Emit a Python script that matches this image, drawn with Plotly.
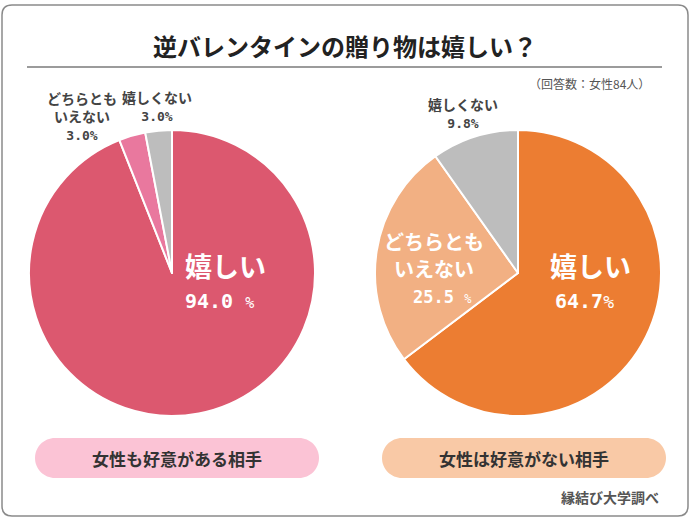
import plotly.graph_objects as go

W, H = 690, 523

title = "逆バレンタインの贈り物は嬉しい？"
subtitle = "（回答数：女性84人）"
source = "縁結び大学調べ"
categories = ["嬉しい", "どちらともいえない", "嬉しくない"]
values_like = [94.0, 3.0, 3.0]      # 女性も好意がある相手
values_dislike = [64.7, 25.5, 9.8]  # 女性は好意がない相手
group_labels = ["女性も好意がある相手", "女性は好意がない相手"]

colors_like = ["#dc586f", "#e9789e", "#bdbdbd"]
colors_dislike = ["#ec7d32", "#f2b083", "#bdbdbd"]

JP = "Noto Sans CJK JP"
MONO = "DejaVu Sans Mono"


def px(x, y):
    return x / W, 1 - y / H


def dom(cx, cy, r):
    return dict(x=[(cx - r) / W, (cx + r) / W], y=[1 - (cy + r) / H, 1 - (cy - r) / H])


fig = go.Figure()
for vals, cols, cx in [(values_like, colors_like, 172), (values_dislike, colors_dislike, 518)]:
    fig.add_trace(go.Pie(
        labels=categories, values=vals, sort=False, direction="clockwise", rotation=0,
        marker=dict(colors=cols, line=dict(color="white", width=2)),
        textinfo="none", hoverinfo="label+percent", showlegend=False,
        domain=dom(cx, 273, 143),
    ))

shapes = []
# outer rounded border
x0, y0, x1, y1, r = 2, 5, 688, 516, 10
path = (f"M {x0+r},{y0} L {x1-r},{y0} Q {x1},{y0} {x1},{y0+r} L {x1},{y1-r} Q {x1},{y1} {x1-r},{y1} "
        f"L {x0+r},{y1} Q {x0},{y1} {x0},{y1-r} L {x0},{y0+r} Q {x0},{y0} {x0+r},{y0} Z")
shapes.append(dict(type="path", xref="x", yref="y", path=path, line=dict(color="#8a8a8a", width=1.5)))
shapes.append(dict(type="line", xref="x", yref="y", x0=27, x1=662, y0=67, y1=67,
                   line=dict(color="#7a7a7a", width=1.5)))


def pill(x0, x1, y0, y1, color):
    r = (y1 - y0) / 2
    k = 0.5523 * r
    ym = (y0 + y1) / 2
    p = (f"M {x0+r},{y0} L {x1-r},{y0} "
         f"C {x1-r+k},{y0} {x1},{ym-k} {x1},{ym} "
         f"C {x1},{ym+k} {x1-r+k},{y1} {x1-r},{y1} "
         f"L {x0+r},{y1} "
         f"C {x0+r-k},{y1} {x0},{ym+k} {x0},{ym} "
         f"C {x0},{ym-k} {x0+r-k},{y0} {x0+r},{y0} Z")
    return dict(type="path", xref="x", yref="y", path=p, fillcolor=color, line=dict(width=0), layer="below")


shapes.append(pill(35, 319, 438, 478, "#fbc3d5"))
shapes.append(pill(382, 666, 438, 478, "#f9c9a6"))

ann = []


def text(x, y, t, size, color="#333333", family=JP, xanchor="center"):
    ax, ay = px(x, y)
    ann.append(dict(x=ax, y=ay, xref="paper", yref="paper", text=t, showarrow=False,
                    xanchor=xanchor, yanchor="middle",
                    font=dict(size=size, color=color, family=family)))


def num(t, size):
    return f"<span style='font-family:{MONO};font-size:{size}px'>{t}</span>"


text(345, 45, f"<b>{title}</b>", 24, "#222222")
text(652, 83, subtitle, 12, "#555555", xanchor="right")

# Pie 1 labels
text(225, 265, f"<b>{categories[0]}</b>", 27, "white")
text(219, 301, f"<b>{values_like[0]:.1f} </b><span style='font-size:15px'>%</span>", 20, "white", MONO)
text(82, 115, "<b>どちらとも<br>いえない<br>" + num(f"{values_like[1]:.1f}%", 13) + "</b>", 14, "#444444")
text(157, 106, f"<b>{categories[2]}<br>" + num(f"{values_like[2]:.1f}%", 13) + "</b>", 14, "#444444")

# Pie 2 labels
text(590, 265, f"<b>{categories[0]}</b>", 27, "white")
text(584, 301, f"<b>{values_dislike[0]:.1f}</b><span style='font-size:18px'>%</span>", 20, "white", MONO)
text(434, 241, "<b>どちらとも</b>", 20, "white")
text(434, 268, "<b>いえない</b>", 20, "white")
text(442, 297, f"<b>{values_dislike[1]:.1f} </b><span style='font-size:12px'>%</span>", 17, "white", MONO)
text(463, 113, f"<b>{categories[2]}<br>" + num(f"{values_dislike[2]:.1f}%", 13) + "</b>", 14, "#444444")

# group labels
text(177, 458, f"<b>{group_labels[0]}</b>", 17, "#333333")
text(524, 458, f"<b>{group_labels[1]}</b>", 17, "#333333")
text(661, 497, f"<b>{source}</b>", 14, "#555555", xanchor="right")

fig.update_layout(
    width=W, height=H, margin=dict(l=0, r=0, t=0, b=0),
    paper_bgcolor="white", plot_bgcolor="rgba(0,0,0,0)",
    xaxis=dict(range=[0, W], visible=False, fixedrange=True),
    yaxis=dict(range=[H, 0], visible=False, fixedrange=True),
    shapes=shapes, annotations=ann, font=dict(family=JP),
)
fig.write_html("out.html", config={"displayModeBar": False},
               post_script="document.body.style.margin='0';")
